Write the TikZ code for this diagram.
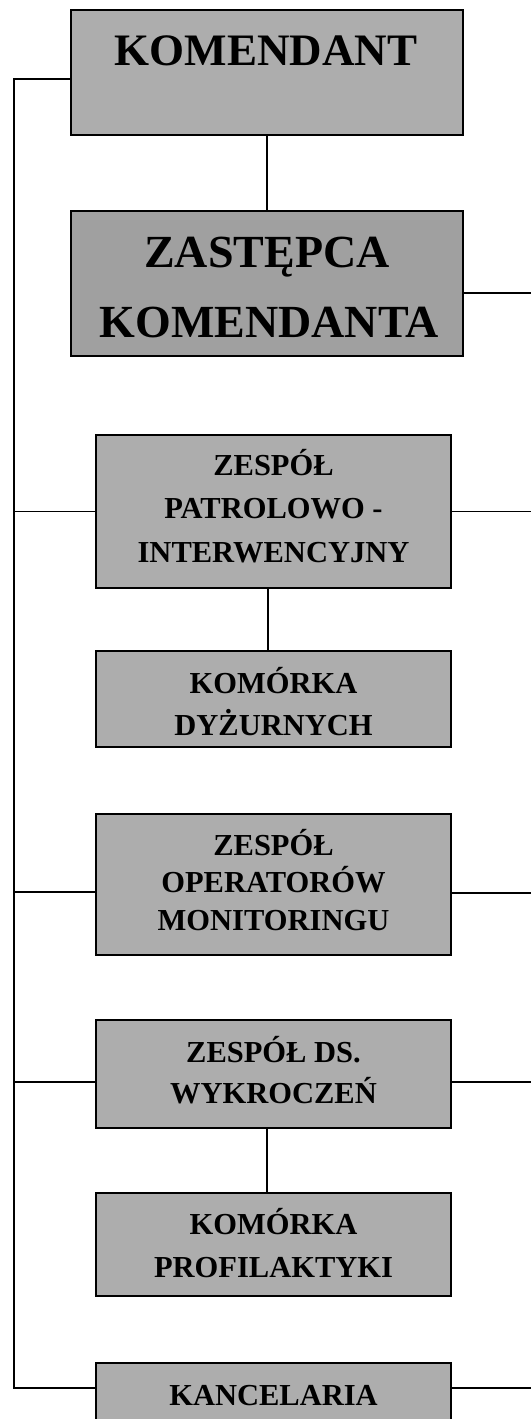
\documentclass[tikz,border=0pt]{standalone}
\usepackage{fontspec}
\setmainfont{Liberation Serif}
\definecolor{boxgray}{HTML}{ADADAD}
\definecolor{boxdark}{HTML}{A0A0A0}
\tikzset{
  box/.style={draw=black, line width=1.6pt, fill=boxgray, rectangle, inner sep=0pt},
  conn/.style={draw=black, line width=1.3pt},
  tbig/.style={font=\fontsize{45}{45}\selectfont\bfseries, anchor=base, inner sep=0pt},
  tmid/.style={font=\fontsize{46}{46}\selectfont\bfseries, anchor=base, inner sep=0pt},
  tsm/.style={font=\fontsize{30.5}{30.5}\selectfont\bfseries, anchor=base, inner sep=0pt}
}
\begin{document}
\begin{tikzpicture}[x=1pt,y=-1pt]
\useasboundingbox (0,0) rectangle (531,1419);
\clip (0,0) rectangle (531,1419);
% boxes
\node[box, minimum width=392pt, minimum height=125pt] (kom) at (267,72.5) {};
\node[box, fill=boxdark, minimum width=392pt, minimum height=145pt] (zast) at (267,283.5) {};
\node[box, minimum width=355pt, minimum height=153pt] (zpi) at (273.5,511.5) {};
\node[box, minimum width=355pt, minimum height=96pt] (kd) at (273.5,699) {};
\node[box, minimum width=355pt, minimum height=141pt] (zom) at (273.5,884.5) {};
\node[box, minimum width=355pt, minimum height=108pt] (zw) at (273.5,1074) {};
\node[box, minimum width=355pt, minimum height=103pt] (kp) at (273.5,1244.5) {};
\node[box, minimum width=355pt, minimum height=80pt] (kanc) at (273.5,1403) {};
% texts
\node[tbig] (t1) at (266,65) {KOMENDANT};
\node[tmid] (t2a) at (267,267) {ZASTĘPCA};
\node[tmid] (t2b) at (269,337) {KOMENDANTA};
\node[tsm] (t3a) at (273.5,475) {ZESPÓŁ};
\node[tsm] (t3b) at (273.5,518) {PATROLOWO -};
\node[tsm] (t3c) at (273.5,562) {INTERWENCYJNY};
\node[tsm] (t4a) at (273.5,693) {KOMÓRKA};
\node[tsm] (t4b) at (273.5,735) {DYŻURNYCH};
\node[tsm] (t5a) at (273.5,855) {ZESPÓŁ};
\node[tsm] (t5b) at (273.5,892) {OPERATORÓW};
\node[tsm] (t5c) at (273.5,930) {MONITORINGU};
\node[tsm] (t6a) at (273.5,1062) {ZESPÓŁ DS.};
\node[tsm] (t6b) at (273.5,1103) {WYKROCZEŃ};
\node[tsm] (t7a) at (273.5,1234) {KOMÓRKA};
\node[tsm] (t7b) at (273.5,1277) {PROFILAKTYKI};
\node[tsm] (t8) at (273.5,1405) {KANCELARIA};
% coordinates
\coordinate (tl) at (14,79);
\coordinate (bl) at (14,1388);
\coordinate (re) at (531,0);
% trunk
\draw[conn] ([yshift=-6.5pt]kom.west) -- (tl) -- (bl) -- ([yshift=15pt]kanc.west);
\draw[conn] (zpi.west) -- (zpi.west -| tl);
\draw[conn] ([yshift=-7.5pt]zom.west) -- ([yshift=-7.5pt]zom.west -| tl);
\draw[conn] ([yshift=-8pt]zw.west) -- ([yshift=-8pt]zw.west -| tl);
% verticals
\draw[conn] (kom.south) -- (zast.north);
\draw[conn] ([xshift=-5.5pt]zpi.south) -- ([xshift=-5.5pt]kd.north);
\draw[conn] ([xshift=-6.5pt]zw.south) -- ([xshift=-6.5pt]kp.north);
% right free ends
\draw[conn] ([yshift=-9.5pt]zast.east) -- ([yshift=-9.5pt]zast.east -| re);
\draw[conn] (zpi.east) -- (zpi.east -| re);
\draw[conn] ([yshift=-8.5pt]zom.east) -- ([yshift=-8.5pt]zom.east -| re);
\draw[conn] ([yshift=-8pt]zw.east) -- ([yshift=-8pt]zw.east -| re);
\draw[conn] ([yshift=15pt]kanc.east) -- ([yshift=15pt]kanc.east -| re);
\end{tikzpicture}
\end{document}
